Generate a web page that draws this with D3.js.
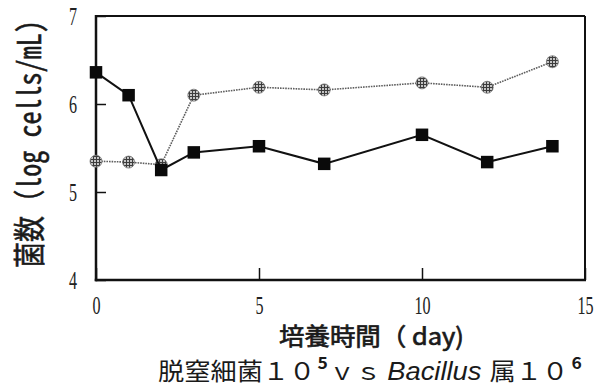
<!DOCTYPE html>
<html>
<head>
<meta charset="utf-8">
<script src="https://cdn.jsdelivr.net/npm/d3@7"></script>
<style>
  body { margin: 0; background: #fff; }
  svg { display: block; }
</style>
</head>
<body>
<svg id="chart" width="599" height="387"></svg>
<script>
// Culture time (days) and cell counts (log cells/mL)
const days = [0, 1, 2, 3, 5, 7, 10, 12, 14];
const denitrifier = [6.36, 6.10, 5.25, 5.45, 5.52, 5.32, 5.65, 5.34, 5.52];
const bacillus = [5.35, 5.34, 5.31, 6.10, 6.19, 6.16, 6.24, 6.19, 6.48];
const xTicks = [0, 5, 10, 15];
const yTicks = [4, 5, 6, 7];

const svg = d3.select("#chart");
const box = { left: 96, right: 585, top: 16, bottom: 280 };

const x = d3.scaleLinear().domain([0, 15]).range([box.left, box.right]);
const y = d3.scaleLinear().domain([4, 7]).range([box.bottom, box.top]);

// crosshatched fill for the round markers
const defs = svg.append("defs");
const pat = defs.append("pattern")
  .attr("id", "hatch")
  .attr("patternUnits", "userSpaceOnUse")
  .attr("width", 3).attr("height", 3);
pat.append("rect").attr("width", 3).attr("height", 3).attr("fill", "#c4c4c4");
pat.append("path").attr("d", "M0,0.5H3M0.5,0V3")
  .attr("stroke", "#3c3c3c").attr("stroke-width", 1);

const serif = "'Liberation Serif', 'DejaVu Serif', serif";

// axes with inward ticks and narrow serif numerals
const xAxis = d3.axisBottom(x).tickValues(xTicks).tickSize(-12).tickFormat(d3.format("d"));
const gx = svg.append("g").attr("transform", `translate(0,${box.bottom})`).call(xAxis);
gx.select(".domain").remove();
gx.selectAll(".tick line").attr("stroke", "#111").attr("stroke-width", 1.5);
gx.selectAll(".tick text")
  .attr("y", 0).attr("dy", null)
  .attr("transform", "translate(0,34) scale(0.7,1.05)")
  .attr("font-family", serif).attr("font-size", 23).attr("fill", "#222");

const yAxis = d3.axisLeft(y).tickValues(yTicks).tickSize(-10).tickFormat(d3.format("d"));
const gy = svg.append("g").attr("transform", `translate(${box.left},0)`).call(yAxis);
gy.select(".domain").remove();
gy.selectAll(".tick line").attr("stroke", "#111").attr("stroke-width", 1.5);
gy.selectAll(".tick text")
  .attr("x", 0).attr("dy", null)
  .attr("transform", "translate(-19,8) scale(0.7,1.05)")
  .attr("text-anchor", "end")
  .attr("font-family", serif).attr("font-size", 23).attr("fill", "#222");

// plot frame
const frame = svg.append("g").attr("stroke", "#111").attr("fill", "none");
frame.append("line").attr("x1", box.left).attr("x2", box.right).attr("y1", box.top).attr("y2", box.top).attr("stroke-width", 2);
frame.append("line").attr("x1", box.right).attr("x2", box.right).attr("y1", box.top).attr("y2", box.bottom).attr("stroke-width", 2);
frame.append("line").attr("x1", box.left).attr("x2", box.left).attr("y1", box.top - 1).attr("y2", box.bottom + 1.25).attr("stroke-width", 2.5);
frame.append("line").attr("x1", box.left - 1.25).attr("x2", box.right + 1).attr("y1", box.bottom).attr("y2", box.bottom).attr("stroke-width", 2.5);

const line = d3.line().x(d => x(d[0])).y(d => y(d[1]));

// Bacillus series: dotted grey line, hatched circles
const bData = days.map((d, i) => [d, bacillus[i]]);
svg.append("path").datum(bData)
  .attr("d", line).attr("fill", "none")
  .attr("stroke", "#5e5e5e").attr("stroke-width", 1.6)
  .attr("stroke-dasharray", "1.6,1");
svg.append("g").selectAll("circle").data(bData).join("circle")
  .attr("cx", d => x(d[0])).attr("cy", d => y(d[1])).attr("r", 6)
  .attr("fill", "url(#hatch)").attr("stroke", "#777").attr("stroke-width", 0.8);

// denitrifier series: solid black line, filled squares
const dData = days.map((d, i) => [d, denitrifier[i]]);
svg.append("path").datum(dData)
  .attr("d", line).attr("fill", "none")
  .attr("stroke", "#111").attr("stroke-width", 2);
const sq = 12.5;
svg.append("g").selectAll("rect").data(dData).join("rect")
  .attr("x", d => x(d[0]) - sq / 2).attr("y", d => y(d[1]) - sq / 2)
  .attr("width", sq).attr("height", sq).attr("fill", "#0a0a0a");

// y-axis title, rotated and stretched across its thickness
const yTitleG = svg.append("g");
const yTitle = yTitleG.append("text")
  .attr("font-family", "'Noto Sans CJK JP', sans-serif")
  .attr("font-size", 22).attr("fill", "#1a1a1a")
  .attr("stroke", "#1a1a1a").attr("stroke-width", 0.4);
yTitle.append("tspan").text("菌数（");
yTitle.append("tspan")
  .attr("font-family", "'Noto Sans Mono CJK JP', 'Noto Sans CJK JP', monospace")
  .text("log cells/mL)");
const yLen = yTitle.node().getComputedTextLength();
yTitleG.attr("transform", `translate(41,268) rotate(-90) scale(${248 / yLen},1.45)`);

// stretch a text horizontally from its left edge to a given width
function fitWidth(sel, left, width) {
  const w = sel.node().getBBox().width;
  sel.attr("transform", `translate(${left},0) scale(${width / w},1) translate(${-left},0)`);
}

// x-axis title
const xTitle = svg.append("text")
  .attr("x", 279).attr("y", 345)
  .attr("font-family", "'Noto Sans CJK JP', sans-serif")
  .attr("font-size", 24).attr("fill", "#1a1a1a")
  .attr("stroke", "#1a1a1a").attr("stroke-width", 0.7)
  .text("培養時間（ day)");
fitWidth(xTitle, 279, 185);

// caption
const cap = svg.append("text")
  .attr("x", 158).attr("y", 380)
  .attr("font-family", "'Noto Sans CJK JP', sans-serif")
  .attr("font-size", 24).attr("fill", "#1a1a1a");
cap.append("tspan").text("脱窒細菌１０");
cap.append("tspan").attr("font-size", 16).attr("dy", -11).attr("dx", 2).attr("font-weight", "bold").text("5");
cap.append("tspan").attr("dy", 11).attr("dx", 1).text("ｖｓ ");
cap.append("tspan").attr("font-family", "'Liberation Sans', Arial, sans-serif")
  .attr("font-style", "italic").attr("font-size", 25).text("Bacillus");
cap.append("tspan").attr("dx", 2).text(" 属１０");
cap.append("tspan").attr("font-size", 16).attr("dy", -11).attr("dx", 3).attr("font-weight", "bold").text("6");
fitWidth(cap, 158, 424);
</script>
</body>
</html>
